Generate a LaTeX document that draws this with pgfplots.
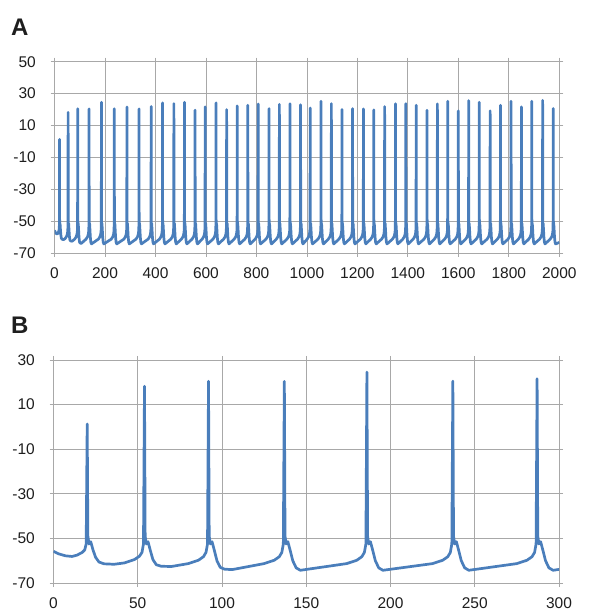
\documentclass[border=0pt]{standalone}
\usepackage{pgfplots}
\pgfplotsset{compat=1.18}
\usepackage{pgfplotstable}
\usepackage{fontspec}
\setmainfont{Liberation Sans}
\definecolor{tracecol}{RGB}{74,126,187}
\definecolor{gridc}{RGB}{168,168,168}
\definecolor{labc}{RGB}{30,30,30}

\pgfplotstableread[row sep=\\]{
x y\\
0 -55.8\\ 3 -56.9\\ 7 -57.8\\ 11 -58.1\\ 14 -57.5\\ 17 -56.3\\ 18.5 -55.2\\ 19.4 -52.5\\ 20 1.3\\ 20.4 -49\\ 21.1 -52.5\\ 22.1 -51.5\\ 23.5 -55.3\\ 25 -58.5\\ 27 -60.6\\ 30 -61.4\\ 36 -61.6\\
42 -61\\ 48 -59.5\\ 51 -58\\ 52.5 -56.3\\ 53.4 -52.5\\ 54 18.2\\ 54.4 -49\\ 55.1 -52.5\\ 56.1 -51.5\\ 57.5 -55.5\\ 59 -59.5\\ 61 -61.8\\ 64 -62.5\\ 70 -62.6\\
80 -61.3\\ 86 -59.8\\ 89 -58.2\\ 90.5 -56.3\\ 91.4 -52.5\\ 92 20.5\\ 92.4 -49\\ 93.1 -52.5\\ 94.1 -51.5\\ 95.5 -55.5\\ 97 -60\\ 99 -63\\ 101.5 -63.8\\ 106 -64\\
125 -61.3\\ 131 -59.8\\ 134 -58.2\\ 135.5 -56.3\\ 136.4 -52.5\\ 137 20.4\\ 137.4 -49\\ 138.1 -52.5\\ 139.1 -51.5\\ 140.5 -55.5\\ 142 -60\\ 144 -63.2\\ 146.5 -64.3\\
174 -61.3\\ 180 -59.8\\ 183 -58.2\\ 184.5 -56.3\\ 185.4 -52.5\\ 186 24.6\\ 186.4 -49\\ 187.1 -52.5\\ 188.1 -51.5\\ 189.5 -55.5\\ 191 -60\\ 193 -63.2\\ 195.5 -64.3\\
225 -61.3\\ 231 -59.8\\ 234 -58.2\\ 235.5 -56.3\\ 236.4 -52.5\\ 237 20.5\\ 237.4 -49\\ 238.1 -52.5\\ 239.1 -51.5\\ 240.5 -55.5\\ 242 -60\\ 244 -63.2\\ 246.5 -64.3\\
275 -61.3\\ 281 -59.8\\ 284 -58.2\\ 285.5 -56.3\\ 286.4 -52.5\\ 287 21.6\\ 287.4 -49\\ 288.1 -52.5\\ 289.1 -51.5\\ 290.5 -55.5\\ 292 -60\\ 294 -63.2\\ 296.5 -64.3\\
323 -61.3\\ 329 -59.8\\ 332 -58.2\\ 333.5 -56.3\\ 334.4 -52.5\\ 335 20.4\\ 335.4 -49\\ 336.1 -52.5\\ 337.1 -51.5\\ 338.5 -55.5\\ 340 -60\\ 342 -63.2\\ 344.5 -64.3\\
371 -61.3\\ 377 -59.8\\ 380 -58.2\\ 381.5 -56.3\\ 382.4 -52.5\\ 383 21.9\\ 383.4 -49\\ 384.1 -52.5\\ 385.1 -51.5\\ 386.5 -55.5\\ 388 -60\\ 390 -63.2\\ 392.5 -64.3\\
416 -61.3\\ 422 -59.8\\ 425 -58.2\\ 426.5 -56.3\\ 427.4 -52.5\\ 428 24.2\\ 428.4 -49\\ 429.1 -52.5\\ 430.1 -51.5\\ 431.5 -55.5\\ 433 -60\\ 435 -63.2\\ 437.5 -64.3\\
461 -61.3\\ 467 -59.8\\ 470 -58.2\\ 471.5 -56.3\\ 472.4 -52.5\\ 473 23.7\\ 473.4 -49\\ 474.1 -52.5\\ 475.1 -51.5\\ 476.5 -55.5\\ 478 -60\\ 480 -63.2\\ 482.5 -64.3\\
503 -61.3\\ 509 -59.8\\ 512 -58.2\\ 513.5 -56.3\\ 514.4 -52.5\\ 515 24.6\\ 515.4 -49\\ 516.1 -52.5\\ 517.1 -51.5\\ 518.5 -55.5\\ 520 -60\\ 522 -63.2\\ 524.5 -64.3\\
545 -61.3\\ 551 -59.8\\ 554 -58.2\\ 555.5 -56.3\\ 556.4 -52.5\\ 557 19.6\\ 557.4 -49\\ 558.1 -52.5\\ 559.1 -51.5\\ 560.5 -55.5\\ 562 -60\\ 564 -63.2\\ 566.5 -64.3\\
585 -61.3\\ 591 -59.8\\ 594 -58.2\\ 595.5 -56.3\\ 596.4 -52.5\\ 597 21.7\\ 597.4 -49\\ 598.1 -52.5\\ 599.1 -51.5\\ 600.5 -55.5\\ 602 -60\\ 604 -63.2\\ 606.5 -64.3\\
628 -61.3\\ 634 -59.8\\ 637 -58.2\\ 638.5 -56.3\\ 639.4 -52.5\\ 640 24.2\\ 640.4 -49\\ 641.1 -52.5\\ 642.1 -51.5\\ 643.5 -55.5\\ 645 -60\\ 647 -63.2\\ 649.5 -64.3\\
670 -61.3\\ 676 -59.8\\ 679 -58.2\\ 680.5 -56.3\\ 681.4 -52.5\\ 682 20.0\\ 682.4 -49\\ 683.1 -52.5\\ 684.1 -51.5\\ 685.5 -55.5\\ 687 -60\\ 689 -63.2\\ 691.5 -64.3\\
712 -61.3\\ 718 -59.8\\ 721 -58.2\\ 722.5 -56.3\\ 723.4 -52.5\\ 724 22.3\\ 724.4 -49\\ 725.1 -52.5\\ 726.1 -51.5\\ 727.5 -55.5\\ 729 -60\\ 731 -63.2\\ 733.5 -64.3\\
754 -61.3\\ 760 -59.8\\ 763 -58.2\\ 764.5 -56.3\\ 765.4 -52.5\\ 766 22.7\\ 766.4 -49\\ 767.1 -52.5\\ 768.1 -51.5\\ 769.5 -55.5\\ 771 -60\\ 773 -63.2\\ 775.5 -64.3\\
795 -61.3\\ 801 -59.8\\ 804 -58.2\\ 805.5 -56.3\\ 806.4 -52.5\\ 807 23.5\\ 807.4 -49\\ 808.1 -52.5\\ 809.1 -51.5\\ 810.5 -55.5\\ 812 -60\\ 814 -63.2\\ 816.5 -64.3\\
838 -61.3\\ 844 -59.8\\ 847 -58.2\\ 848.5 -56.3\\ 849.4 -52.5\\ 850 20.6\\ 850.4 -49\\ 851.1 -52.5\\ 852.1 -51.5\\ 853.5 -55.5\\ 855 -60\\ 857 -63.2\\ 859.5 -64.3\\
879 -61.3\\ 885 -59.8\\ 888 -58.2\\ 889.5 -56.3\\ 890.4 -52.5\\ 891 23.3\\ 891.4 -49\\ 892.1 -52.5\\ 893.1 -51.5\\ 894.5 -55.5\\ 896 -60\\ 898 -63.2\\ 900.5 -64.3\\
921 -61.3\\ 927 -59.8\\ 930 -58.2\\ 931.5 -56.3\\ 932.4 -52.5\\ 933 23.7\\ 933.4 -49\\ 934.1 -52.5\\ 935.1 -51.5\\ 936.5 -55.5\\ 938 -60\\ 940 -63.2\\ 942.5 -64.3\\
963 -61.3\\ 969 -59.8\\ 972 -58.2\\ 973.5 -56.3\\ 974.4 -52.5\\ 975 23.0\\ 975.4 -49\\ 976.1 -52.5\\ 977.1 -51.5\\ 978.5 -55.5\\ 980 -60\\ 982 -63.2\\ 984.5 -64.3\\
1001 -61.3\\ 1007 -59.8\\ 1010 -58.2\\ 1011.5 -56.3\\ 1012.4 -52.5\\ 1013 21.0\\ 1013.4 -49\\ 1014.1 -52.5\\ 1015.1 -51.5\\ 1016.5 -55.5\\ 1018 -60\\ 1020 -63.2\\ 1022.5 -64.3\\
1044 -61.3\\ 1050 -59.8\\ 1053 -58.2\\ 1054.5 -56.3\\ 1055.4 -52.5\\ 1056 25.2\\ 1056.4 -49\\ 1057.1 -52.5\\ 1058.1 -51.5\\ 1059.5 -55.5\\ 1061 -60\\ 1063 -63.2\\ 1065.5 -64.3\\
1085 -61.3\\ 1091 -59.8\\ 1094 -58.2\\ 1095.5 -56.3\\ 1096.4 -52.5\\ 1097 23.7\\ 1097.4 -49\\ 1098.1 -52.5\\ 1099.1 -51.5\\ 1100.5 -55.5\\ 1102 -60\\ 1104 -63.2\\ 1106.5 -64.3\\
1127 -61.3\\ 1133 -59.8\\ 1136 -58.2\\ 1137.5 -56.3\\ 1138.4 -52.5\\ 1139 20.0\\ 1139.4 -49\\ 1140.1 -52.5\\ 1141.1 -51.5\\ 1142.5 -55.5\\ 1144 -60\\ 1146 -63.2\\ 1148.5 -64.3\\
1169 -61.3\\ 1175 -59.8\\ 1178 -58.2\\ 1179.5 -56.3\\ 1180.4 -52.5\\ 1181 20.6\\ 1181.4 -49\\ 1182.1 -52.5\\ 1183.1 -51.5\\ 1184.5 -55.5\\ 1186 -60\\ 1188 -63.2\\ 1190.5 -64.3\\
1212 -61.3\\ 1218 -59.8\\ 1221 -58.2\\ 1222.5 -56.3\\ 1223.4 -52.5\\ 1224 20.4\\ 1224.4 -49\\ 1225.1 -52.5\\ 1226.1 -51.5\\ 1227.5 -55.5\\ 1229 -60\\ 1231 -63.2\\ 1233.5 -64.3\\
1253 -61.3\\ 1259 -59.8\\ 1262 -58.2\\ 1263.5 -56.3\\ 1264.4 -52.5\\ 1265 19.8\\ 1265.4 -49\\ 1266.1 -52.5\\ 1267.1 -51.5\\ 1268.5 -55.5\\ 1270 -60\\ 1272 -63.2\\ 1274.5 -64.3\\
1296 -61.3\\ 1302 -59.8\\ 1305 -58.2\\ 1306.5 -56.3\\ 1307.4 -52.5\\ 1308 21.9\\ 1308.4 -49\\ 1309.1 -52.5\\ 1310.1 -51.5\\ 1311.5 -55.5\\ 1313 -60\\ 1315 -63.2\\ 1317.5 -64.3\\
1339 -61.3\\ 1345 -59.8\\ 1348 -58.2\\ 1349.5 -56.3\\ 1350.4 -52.5\\ 1351 23.7\\ 1351.4 -49\\ 1352.1 -52.5\\ 1353.1 -51.5\\ 1354.5 -55.5\\ 1356 -60\\ 1358 -63.2\\ 1360.5 -64.3\\
1380 -61.3\\ 1386 -59.8\\ 1389 -58.2\\ 1390.5 -56.3\\ 1391.4 -52.5\\ 1392 23.7\\ 1392.4 -49\\ 1393.1 -52.5\\ 1394.1 -51.5\\ 1395.5 -55.5\\ 1397 -60\\ 1399 -63.2\\ 1401.5 -64.3\\
1421 -61.3\\ 1427 -59.8\\ 1430 -58.2\\ 1431.5 -56.3\\ 1432.4 -52.5\\ 1433 22.7\\ 1433.4 -49\\ 1434.1 -52.5\\ 1435.1 -51.5\\ 1436.5 -55.5\\ 1438 -60\\ 1440 -63.2\\ 1442.5 -64.3\\
1464 -61.3\\ 1470 -59.8\\ 1473 -58.2\\ 1474.5 -56.3\\ 1475.4 -52.5\\ 1476 19.6\\ 1476.4 -49\\ 1477.1 -52.5\\ 1478.1 -51.5\\ 1479.5 -55.5\\ 1481 -60\\ 1483 -63.2\\ 1485.5 -64.3\\
1505 -61.3\\ 1511 -59.8\\ 1514 -58.2\\ 1515.5 -56.3\\ 1516.4 -52.5\\ 1517 23.5\\ 1517.4 -49\\ 1518.1 -52.5\\ 1519.1 -51.5\\ 1520.5 -55.5\\ 1522 -60\\ 1524 -63.2\\ 1526.5 -64.3\\
1546 -61.3\\ 1552 -59.8\\ 1555 -58.2\\ 1556.5 -56.3\\ 1557.4 -52.5\\ 1558 25.2\\ 1558.4 -49\\ 1559.1 -52.5\\ 1560.1 -51.5\\ 1561.5 -55.5\\ 1563 -60\\ 1565 -63.2\\ 1567.5 -64.3\\
1588 -61.3\\ 1594 -59.8\\ 1597 -58.2\\ 1598.5 -56.3\\ 1599.4 -52.5\\ 1600 19.2\\ 1600.4 -49\\ 1601.1 -52.5\\ 1602.1 -51.5\\ 1603.5 -55.5\\ 1605 -60\\ 1607 -63.2\\ 1609.5 -64.3\\
1629 -61.3\\ 1635 -59.8\\ 1638 -58.2\\ 1639.5 -56.3\\ 1640.4 -52.5\\ 1641 25.6\\ 1641.4 -49\\ 1642.1 -52.5\\ 1643.1 -51.5\\ 1644.5 -55.5\\ 1646 -60\\ 1648 -63.2\\ 1650.5 -64.3\\
1671 -61.3\\ 1677 -59.8\\ 1680 -58.2\\ 1681.5 -56.3\\ 1682.4 -52.5\\ 1683 24.6\\ 1683.4 -49\\ 1684.1 -52.5\\ 1685.1 -51.5\\ 1686.5 -55.5\\ 1688 -60\\ 1690 -63.2\\ 1692.5 -64.3\\
1714 -61.3\\ 1720 -59.8\\ 1723 -58.2\\ 1724.5 -56.3\\ 1725.4 -52.5\\ 1726 19.2\\ 1726.4 -49\\ 1727.1 -52.5\\ 1728.1 -51.5\\ 1729.5 -55.5\\ 1731 -60\\ 1733 -63.2\\ 1735.5 -64.3\\
1755 -61.3\\ 1761 -59.8\\ 1764 -58.2\\ 1765.5 -56.3\\ 1766.4 -52.5\\ 1767 22.7\\ 1767.4 -49\\ 1768.1 -52.5\\ 1769.1 -51.5\\ 1770.5 -55.5\\ 1772 -60\\ 1774 -63.2\\ 1776.5 -64.3\\
1797 -61.3\\ 1803 -59.8\\ 1806 -58.2\\ 1807.5 -56.3\\ 1808.4 -52.5\\ 1809 25.2\\ 1809.4 -49\\ 1810.1 -52.5\\ 1811.1 -51.5\\ 1812.5 -55.5\\ 1814 -60\\ 1816 -63.2\\ 1818.5 -64.3\\
1838 -61.3\\ 1844 -59.8\\ 1847 -58.2\\ 1848.5 -56.3\\ 1849.4 -52.5\\ 1850 21.7\\ 1850.4 -49\\ 1851.1 -52.5\\ 1852.1 -51.5\\ 1853.5 -55.5\\ 1855 -60\\ 1857 -63.2\\ 1859.5 -64.3\\
1879 -61.3\\ 1885 -59.8\\ 1888 -58.2\\ 1889.5 -56.3\\ 1890.4 -52.5\\ 1891 25.2\\ 1891.4 -49\\ 1892.1 -52.5\\ 1893.1 -51.5\\ 1894.5 -55.5\\ 1896 -60\\ 1898 -63.2\\ 1900.5 -64.3\\
1922 -61.3\\ 1928 -59.8\\ 1931 -58.2\\ 1932.5 -56.3\\ 1933.4 -52.5\\ 1934 25.8\\ 1934.4 -49\\ 1935.1 -52.5\\ 1936.1 -51.5\\ 1937.5 -55.5\\ 1939 -60\\ 1941 -63.2\\ 1943.5 -64.3\\
1964 -61.3\\ 1970 -59.8\\ 1973 -58.2\\ 1974.5 -56.3\\ 1975.4 -52.5\\ 1976 20.6\\ 1976.4 -49\\ 1977.1 -52.5\\ 1978.1 -51.5\\ 1979.5 -55.5\\ 1981 -60\\ 1983 -63.2\\ 1985.5 -64.3\\
2000 -63.4\\
}\vm

\pgfplotsset{
  panel/.style={
    scale only axis,
    axis line style={gridc, line width=0.8pt},
    grid=major,
    major grid style={gridc, line width=0.8pt},
    tick align=outside,
    major tick length=4pt,
    tick style={gridc, line width=0.8pt},
    tick label style={font=\fontsize{15.5}{15.5}\selectfont, text=labc},
    /pgf/number format/assume math mode=true,
    /pgf/number format/1000 sep={},
    scaled ticks=false,
    yticklabel style={inner sep=0pt, anchor=east, xshift=-14.5pt},
    xticklabel style={inner sep=0pt, anchor=north, yshift=-10pt},
    clip=true,
  },
  vtrace/.style={color=tracecol, line width=2.7pt, line join=round, no marks},
}

\begin{document}
\begin{tikzpicture}
\useasboundingbox (0,0) rectangle (590pt,610pt);
\begin{axis}[panel,
  at={(54.5pt,357pt)}, anchor=south west,
  width=504.8pt, height=191.3pt,
  xmin=0, xmax=2000, ymin=-70, ymax=50,
  xtick={0,200,...,2000}, ytick={-70,-50,...,50}]
\addplot[vtrace] table[x=x,y=y] {\vm};
\end{axis}
\begin{axis}[panel,
  at={(53.5pt,27pt)}, anchor=south west,
  width=505.5pt, height=223pt,
  xmin=0, xmax=300, ymin=-70, ymax=30,
  xtick={0,50,...,300}, ytick={-70,-50,...,30}]
\addplot[vtrace] table[x=x,y=y] {\vm};
\end{axis}
\node[anchor=base west, inner sep=0pt, font=\bfseries\fontsize{24}{24}\selectfont, text=labc] at (11pt,574pt) {A};
\node[anchor=base west, inner sep=0pt, font=\bfseries\fontsize{24}{24}\selectfont, text=labc] at (11pt,276pt) {B};
\end{tikzpicture}
\end{document}
